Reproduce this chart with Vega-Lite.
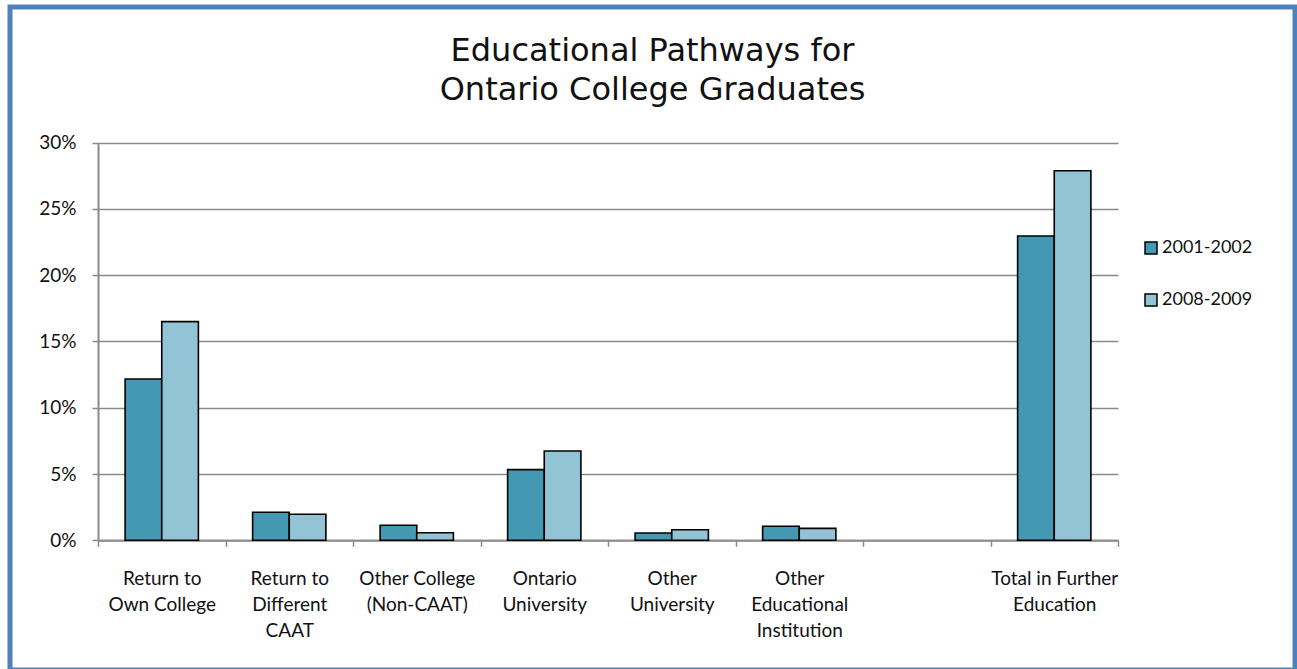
{
  "$schema": "https://vega.github.io/schema/vega-lite/v6.json",
  "width": 1285,
  "height": 663,
  "padding": {"left": 10, "top": 7, "right": 2, "bottom": 0},
  "background": "white",
  "config": {
    "view": {"stroke": "#4F81BD", "strokeWidth": 5},
    "font": "Lato"
  },
  "title": {
    "text": ["Educational Pathways for", "Ontario College Graduates"],
    "font": "DejaVu Sans",
    "fontSize": 32,
    "fontWeight": "normal",
    "color": "#111111",
    "lineHeight": 39,
    "anchor": "middle",
    "frame": "group",
    "offset": -100
  },
  "data": {
    "values": [
      {"category": "Return to|Own College", "period": "2001-2002", "value": 0.1216},
      {"category": "Return to|Own College", "period": "2008-2009", "value": 0.1649},
      {"category": "Return to|Different|CAAT", "period": "2001-2002", "value": 0.0211},
      {"category": "Return to|Different|CAAT", "period": "2008-2009", "value": 0.0196},
      {"category": "Other College|(Non-CAAT)", "period": "2001-2002", "value": 0.0113},
      {"category": "Other College|(Non-CAAT)", "period": "2008-2009", "value": 0.0057},
      {"category": "Ontario|University", "period": "2001-2002", "value": 0.0533},
      {"category": "Ontario|University", "period": "2008-2009", "value": 0.0673},
      {"category": "Other|University", "period": "2001-2002", "value": 0.0055},
      {"category": "Other|University", "period": "2008-2009", "value": 0.008},
      {"category": "Other|Educational|Institution", "period": "2001-2002", "value": 0.0106},
      {"category": "Other|Educational|Institution", "period": "2008-2009", "value": 0.009},
      {"category": "Total in Further|Education", "period": "2001-2002", "value": 0.2295},
      {"category": "Total in Further|Education", "period": "2008-2009", "value": 0.2787}
    ]
  },
  "mark": {"type": "bar", "stroke": "black", "strokeWidth": 1.6},
  "encoding": {
    "x": {
      "field": "category",
      "type": "nominal",
      "scale": {
        "domain": ["Return to|Own College", "Return to|Different|CAAT", "Other College|(Non-CAAT)", "Ontario|University", "Other|University", "Other|Educational|Institution", " ", "Total in Further|Education"],
        "range": [88, 1108],
        "paddingInner": 0,
        "paddingOuter": 0
      },
      "axis": {
        "title": null,
        "orient": "bottom",
        "offset": -129.7,
        "labelAngle": 0,
        "labelExpr": "split(datum.label, '|')",
        "labelFontSize": 19,
        "labelColor": "#111111",
        "labelLineHeight": 26,
        "labelPadding": 23,
        "labelBaseline": "top",
        "tickBand": "extent",
        "tickSize": 6,
        "tickColor": "#8a8a8a",
        "tickWidth": 1.5,
        "domainColor": "#8a8a8a",
        "domainWidth": 2,
        "grid": false
      }
    },
    "xOffset": {
      "field": "period",
      "type": "nominal",
      "scale": {"paddingInner": 0, "paddingOuter": 0.74}
    },
    "y": {
      "field": "value",
      "type": "quantitative",
      "scale": {"domain": [0, 0.3], "range": [533.3, 135.5], "nice": false, "zero": true},
      "axis": {
        "title": null,
        "orient": "left",
        "offset": -88,
        "values": [0, 0.05, 0.1, 0.15, 0.2, 0.25, 0.3],
        "format": ".0%",
        "labelFontSize": 19,
        "labelColor": "#111111",
        "labelPadding": 16,
        "tickSize": 6,
        "tickColor": "#8a8a8a",
        "tickWidth": 1.5,
        "domainColor": "#8a8a8a",
        "domainWidth": 2,
        "grid": true,
        "gridColor": "#8a8a8a",
        "gridWidth": 1.5
      }
    },
    "color": {
      "field": "period",
      "type": "nominal",
      "scale": {"domain": ["2001-2002", "2008-2009"], "range": ["#4399B1", "#93C4D5"]},
      "legend": {
        "title": null,
        "orient": "none",
        "legendX": 1132,
        "legendY": 232,
        "padding": 0,
        "symbolType": "square",
        "symbolSize": 144,
        "symbolStrokeColor": "black",
        "symbolStrokeWidth": 1.5,
        "symbolOpacity": 1,
        "labelFontSize": 18,
        "labelColor": "#111111",
        "labelOffset": 2,
        "rowPadding": 34
      }
    }
  }
}
